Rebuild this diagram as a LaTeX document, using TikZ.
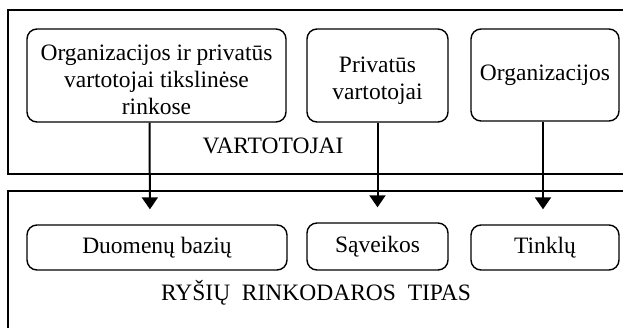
\documentclass[tikz,border=0pt]{standalone}
\usepackage{fontspec}
\setmainfont{Liberation Serif}
\usetikzlibrary{arrows.meta}
\newcommand{\openFrame}[2]{
  \draw[line width=1.5pt] (630,#1) -- (8,#1) -- (8,#2) -- (630,#2)
}
\newcommand{\dropLine}{\rule{0pt}{25pt}}

\begin{document}
\begin{tikzpicture}[x=1pt,y=-1pt,
    box/.style={draw, rounded corners=10pt, line width=1.4pt, align=center,
      inner sep=2pt, font=\fontsize{23.5}{27}\selectfont},
    label/.style={font=\fontsize{23.5}{27}\selectfont},
    arr/.style={-{Triangle[length=12pt,width=16pt]}, line width=2pt, shorten >=15pt}]
  \useasboundingbox (0,0) rectangle (623,327);

  \openFrame{10}{174};
  \openFrame{191}{340};

  \node[box, minimum width=259pt, minimum height=93pt] (v1) at (156.5,75.5)
    {\dropLine Organizacijos ir privatūs\\vartotojai tikslinėse\\rinkose};
  \node[box, minimum width=141pt, minimum height=93pt] (v2) at (377.5,75.5)
    {\dropLine Privatūs\\vartotojai};
  \node[box, minimum width=148pt, minimum height=92pt] (v3) at (545,75)
    {Organizacijos};
  \node[label] (vart) at (273,146) {VARTOTOJAI};

  \node[box, minimum width=260pt, minimum height=45pt] (r1) at (157,247.5) {Duomenų bazių};
  \node[box, minimum width=141pt, minimum height=47pt] (r2) at (377.5,246.5) {Sąveikos};
  \node[box, minimum width=148pt, minimum height=45pt] (r3) at (545,247.5) {Tinklų};
  \node[label] (tipas) at (316,293) {RYŠIŲ\ \ RINKODAROS\ \ TIPAS};

  \draw[arr] ([xshift=-7pt]v1.south) -- ([xshift=-7pt]r1.north);
  \draw[arr] (v2.south) -- (r2.north);
  \draw[arr] ([xshift=-2pt]v3.south) -- ([xshift=-2pt]r3.north);
\end{tikzpicture}
\end{document}
